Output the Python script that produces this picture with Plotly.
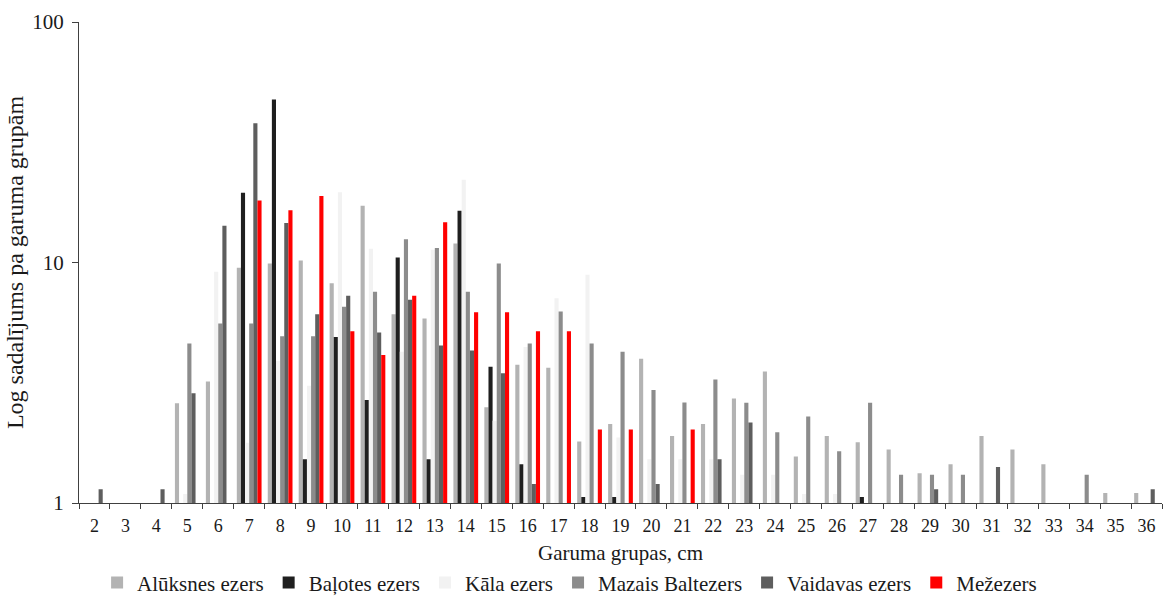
import plotly.graph_objects as go

categories = [str(c) for c in range(2, 37)]

# values per length group 2..36 (None = no bar)
aluksnes = [None, None, None, 2.6, 3.2, 9.5, 9.9, 10.2, 8.2, 17.2, 6.1, 5.85, 12.0, 2.5, 3.76, 3.65,
            1.8, 2.13, 3.98, 1.9, 2.13, 2.72, 3.52, 1.56, 1.9, 1.79, 1.67, 1.33, 1.45, 1.9, 1.67, 1.45,
            None, 1.1, 1.1]
balotes = [None, None, None, None, None, 19.5, 47.6, 1.52, 4.9, 2.68, 10.5, 1.52, 16.4, 3.69, 1.45, None,
           1.06, 1.06, None, None, None, None, None, None, None, 1.06, None, None, None, None, None, None,
           None, None, None]
kala = [None, None, None, 1.09, 9.15, 1.78, 3.9, 3.07, 19.6, 11.4, 4.26, 11.3, 22.1, 2.2, 4.45, 7.1,
        8.9, 1.87, 1.52, 1.52, 1.52, 1.31, 1.31, 1.09, 1.09, None, None, None, None, None, None, None,
        None, None, None]
mazais = [None, None, None, 4.6, 5.57, 5.57, 4.93, 4.93, 6.54, 7.55, 12.5, 11.5, 7.55, 9.9, 4.6, 6.25,
          4.6, 4.26, 2.95, 2.62, 3.26, 2.61, 1.97, 2.29, 1.64, 2.61, 1.31, 1.31, 1.31, None, None, None,
          1.31, None, None]
vaidavas = [1.14, None, 1.14, 2.86, 14.2, 37.9, 14.6, 6.1, 7.27, 5.11, 7.0, 4.52, 4.31, 3.46, 1.2, None,
            None, None, 1.2, None, 1.52, 2.16, None, None, None, None, None, 1.14, None, 1.41, None, None,
            None, None, 1.14]
mezezers = [None, None, None, None, None, 18.1, 16.5, 18.9, 5.18, 4.12, 7.27, 14.7, 6.21, 6.21, 5.18, 5.18,
            2.02, 2.02, None, 2.02, None, None, None, None, None, None, None, None, None, None, None, None,
            None, None, None]

series = [
    ("Alūksnes ezers", aluksnes, "#b3b3b3"),
    ("Baļotes ezers", balotes, "#1f1f1f"),
    ("Kāla ezers", kala, "#f2f2f2"),
    ("Mazais Baltezers", mazais, "#8c8c8c"),
    ("Vaidavas ezers", vaidavas, "#5e5e5e"),
    ("Mežezers", mezezers, "#ff0000"),
]

FONT = "Liberation Serif, Times New Roman, serif"
TXT = "#1a1a1a"

fig = go.Figure()
for name, vals, color in series:
    fig.add_trace(go.Bar(x=categories, y=vals, name=name, marker=dict(color=color, line=dict(width=0))))

fig.update_layout(
    width=1163, height=599,
    margin=dict(l=79, r=1, t=22, b=96, autoexpand=False),
    paper_bgcolor="white", plot_bgcolor="white",
    barmode="group", bargap=0.2, bargroupgap=0,
    font=dict(family=FONT, size=18, color=TXT),
    showlegend=True,
    legend=dict(orientation="h", x=0.453, xanchor="center", y=-0.166, yanchor="middle",
                font=dict(family=FONT, size=21, color=TXT), itemwidth=30,
                traceorder="normal"),
)
fig.update_xaxes(
    type="category", tickson="boundaries", ticks="outside", ticklen=5, tickcolor="#404040",
    showline=True, linecolor="#404040", linewidth=1, showgrid=False,
    tickfont=dict(family=FONT, size=18, color=TXT), ticklabelstandoff=6,
    title=dict(text="Garuma grupas, cm", font=dict(family=FONT, size=21, color=TXT), standoff=10),
    automargin=False,
)
fig.update_yaxes(
    type="log", range=[0, 2], tickvals=[1, 10, 100], ticktext=["1", "10", "100"],
    ticks="outside", ticklen=6, tickcolor="#404040",
    showline=True, linecolor="#404040", linewidth=1, showgrid=False, zeroline=False,
    tickfont=dict(family=FONT, size=21, color=TXT), ticklabelstandoff=4,
    title=dict(text="Log sadalījums pa garuma grupām", font=dict(family=FONT, size=24, color=TXT), standoff=1),
    automargin=False,
)

fig.write_html("out.html")
